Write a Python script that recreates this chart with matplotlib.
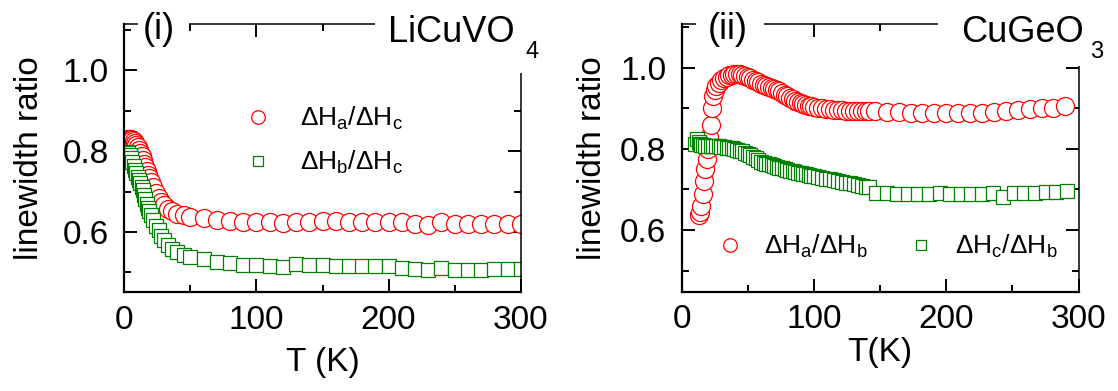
import matplotlib
matplotlib.use('Agg')
import matplotlib.pyplot as plt
from matplotlib.patches import Rectangle
from matplotlib.ticker import MultipleLocator
from matplotlib.lines import Line2D

plt.rcParams['font.family'] = ['Liberation Sans', 'DejaVu Sans']
plt.rcParams['mathtext.fontset'] = 'custom'
plt.rcParams['mathtext.rm'] = 'Liberation Sans'
plt.rcParams['mathtext.it'] = 'Liberation Sans'
plt.rcParams['mathtext.default'] = 'regular'

RED = '#ff0000'
GREEN = '#008000'

# LiCuVO4 : linewidth ratios vs temperature
T_li = [2, 3, 4, 5, 6, 7, 8, 9, 10, 11, 12, 13, 14, 15, 16, 17, 18, 19, 20,
        22, 24, 26, 28, 30, 33, 36, 40, 45,
        50, 60, 70, 80, 90, 100, 110, 120, 130, 140, 150, 160, 170, 180, 190,
        200, 210, 220, 230, 240, 250, 260, 270, 280, 290, 300]
li_a_c = [0.828, 0.830, 0.830, 0.829, 0.827, 0.824, 0.820, 0.815, 0.809, 0.802,
          0.795, 0.787, 0.778, 0.769, 0.760, 0.751, 0.742, 0.733, 0.724,
          0.710, 0.697, 0.685, 0.675, 0.666, 0.657, 0.651, 0.645, 0.641,
          0.638, 0.634, 0.630, 0.626, 0.625, 0.624, 0.624, 0.623, 0.624, 0.625,
          0.628, 0.627, 0.625, 0.625, 0.625, 0.625, 0.624, 0.619, 0.617, 0.624,
          0.621, 0.621, 0.621, 0.620, 0.621, 0.620]
li_b_c = [0.797, 0.795, 0.790, 0.782, 0.772, 0.762, 0.753, 0.745, 0.737, 0.728,
          0.720, 0.711, 0.703, 0.692, 0.681, 0.670, 0.660, 0.651, 0.643,
          0.629, 0.616, 0.604, 0.590, 0.580, 0.568, 0.558, 0.550, 0.543,
          0.539, 0.533, 0.527, 0.523, 0.519, 0.518, 0.516, 0.513, 0.521, 0.518,
          0.518, 0.517, 0.516, 0.516, 0.516, 0.516, 0.511, 0.509, 0.507, 0.510,
          0.507, 0.507, 0.507, 0.508, 0.508, 0.508]

# CuGeO3 : dHa/dHb
T_cu_a = [13, 14, 15, 16, 17, 18, 19, 20, 21, 22, 23, 24, 25, 26, 28, 30, 32,
          34, 36, 38, 40, 42, 44, 46, 48, 50, 52, 54, 56, 58, 60, 62, 64, 66,
          68, 70, 72, 74, 76, 78, 80, 82, 84, 86, 88, 90, 92, 94, 96, 98, 100,
          103, 106, 109, 112, 115, 118, 121, 124, 127, 130, 133, 136, 139, 142,
          146, 155, 164, 173, 182, 191, 200, 209, 218, 227, 236, 245, 254, 263,
          272, 281, 290]
cu_a_b = [0.636, 0.645, 0.660, 0.690, 0.720, 0.750, 0.775, 0.800, 0.830, 0.860,
          0.900, 0.930, 0.945, 0.955, 0.963, 0.970, 0.975, 0.978, 0.981, 0.983,
          0.985, 0.985, 0.984, 0.982, 0.980, 0.977, 0.974, 0.971, 0.968, 0.964,
          0.960, 0.957, 0.954, 0.952, 0.950, 0.948, 0.945, 0.942, 0.938, 0.934,
          0.930, 0.926, 0.922, 0.918, 0.915, 0.912, 0.910, 0.908, 0.906, 0.905,
          0.904, 0.902, 0.900, 0.899, 0.898, 0.897, 0.896, 0.895, 0.894, 0.894,
          0.893, 0.893, 0.893, 0.893, 0.894,
          0.894, 0.892, 0.890, 0.889, 0.888, 0.888, 0.888, 0.888, 0.889, 0.889,
          0.891, 0.893, 0.896, 0.899, 0.900, 0.902, 0.905]

# CuGeO3 : dHc/dHb
T_cu_c = [10, 12, 13, 14, 15, 16, 18, 20, 22, 24, 26, 28, 30, 32, 34, 36, 38,
          40, 42, 44, 46, 48, 50, 52, 54, 56, 58, 60, 62, 64, 66, 68, 70, 72,
          74, 76, 78, 80, 82, 84, 86, 88, 90, 92, 94, 96, 98, 100, 103, 106,
          109, 112, 115, 118, 121, 124, 127, 130, 133, 136, 139, 142,
          147, 155, 163, 171, 179, 187, 195, 203, 211, 219, 227, 235, 243, 251,
          259, 267, 275, 283, 291]
cu_c_b = [0.812, 0.825, 0.818, 0.812, 0.810, 0.809, 0.808, 0.808, 0.807, 0.807,
          0.806, 0.806, 0.805, 0.804, 0.803, 0.802, 0.801, 0.800, 0.798, 0.796,
          0.794, 0.791, 0.788, 0.785, 0.781, 0.777, 0.772, 0.768, 0.766, 0.764,
          0.762, 0.760, 0.758, 0.756, 0.754, 0.752, 0.750, 0.748, 0.746, 0.745,
          0.743, 0.741, 0.740, 0.738, 0.737, 0.735, 0.734, 0.733, 0.731, 0.729,
          0.727, 0.725, 0.723, 0.721, 0.719, 0.717, 0.715, 0.713, 0.711, 0.709,
          0.707, 0.705,
          0.692, 0.691, 0.690, 0.690, 0.689, 0.688, 0.692, 0.690, 0.690, 0.690,
          0.690, 0.692, 0.682, 0.692, 0.691, 0.692, 0.693, 0.694, 0.696]

circ = dict(marker='o', ms=13, mfc='white', mec=RED, mew=0.9, ls='none')
sqr = dict(marker='s', ms=10.5, mfc='white', mec=GREEN, mew=0.9, ls='none')

fig = plt.figure(figsize=(11.18, 3.91), dpi=100)
ax1 = fig.add_axes([0.1112, 0.2524, 0.3546, 0.6862])
ax2 = fig.add_axes([0.6096, 0.2540, 0.3552, 0.6847])


def style_axes(ax, ylim):
    ax.set_xlim(0, 300)
    ax.set_ylim(*ylim)
    ax.xaxis.set_major_locator(MultipleLocator(100))
    ax.xaxis.set_minor_locator(MultipleLocator(50))
    ax.yaxis.set_major_locator(MultipleLocator(0.2))
    ax.yaxis.set_minor_locator(MultipleLocator(0.1))
    ax.tick_params(which='both', direction='in', top=True, right=True,
                   labelsize=24, width=1.4)
    ax.tick_params(which='major', length=9.5)
    ax.tick_params(which='minor', length=5)
    ax.tick_params(axis='x', pad=9)
    ax.tick_params(axis='y', pad=11)
    for side in ['left', 'bottom']:
        ax.spines[side].set_linewidth(1.6)
    for side in ['top', 'right']:
        ax.spines[side].set_linewidth(1.1)
    ax.set_ylabel('linewidth ratio', fontsize=24)


def cover(ax, x0, y0, x1, y1):
    # white patch hiding the frame behind the panel captions
    ax.add_patch(Rectangle((x0, y0), x1 - x0, y1 - y0, transform=ax.transAxes,
                           facecolor='white', edgecolor='none',
                           clip_on=False, zorder=3))


# (i) LiCuVO4
ax1.plot(T_li, li_a_c, **circ)
ax1.plot(T_li, li_b_c, **sqr)
style_axes(ax1, (0.451, 1.114))
ax1.set_xlabel('T (K)', fontsize=24)
ax1.yaxis.set_label_coords(-0.201, 0.5)
ax1.xaxis.set_label_coords(0.5, -0.204)
cover(ax1, 0.0333, 0.94, 0.163, 1.071)
cover(ax1, 0.6325, 0.8173, 1.12, 1.1)
ax1.text(0.046, 0.944, '(i)', transform=ax1.transAxes, fontsize=26,
         ha='left', va='baseline', zorder=4)
ax1.text(0.985, 0.9329, 'LiCuVO', transform=ax1.transAxes, fontsize=26,
         ha='right', va='baseline', zorder=4)
ax1.text(1.012, 0.872, '4', transform=ax1.transAxes, fontsize=17,
         ha='left', va='baseline', zorder=4)
h1 = [Line2D([], [], **circ), Line2D([], [], **sqr)]
ax1.legend(h1, [r'$\Delta H_a/\Delta H_c$', r'$\Delta H_b/\Delta H_c$'],
           loc='center left', bbox_to_anchor=(0.3045, 0.565), frameon=False,
           fontsize=19, markerscale=0.75, handlelength=1.0, handletextpad=1.1,
           borderpad=0, borderaxespad=0, labelspacing=0.65)

# (ii) CuGeO3
ax2.plot(T_cu_a, cu_a_b, **circ)
ax2.plot(T_cu_c, cu_c_b, **sqr)
style_axes(ax2, (0.448, 1.108))
ax2.set_xlabel('T(K)', fontsize=24)
ax2.yaxis.set_label_coords(-0.185, 0.5)
ax2.xaxis.set_label_coords(0.5, -0.169)
cover(ax2, 0.0358, 0.94, 0.2067, 1.071)
cover(ax2, 0.6459, 0.843, 1.12, 1.1)
ax2.text(0.066, 0.944, '(ii)', transform=ax2.transAxes, fontsize=26,
         ha='left', va='baseline', zorder=4)
ax2.text(1.014, 0.9328, 'CuGeO', transform=ax2.transAxes, fontsize=26,
         ha='right', va='baseline', zorder=4)
ax2.text(1.03, 0.872, '3', transform=ax2.transAxes, fontsize=17,
         ha='left', va='baseline', zorder=4)
h2 = [Line2D([], [], **circ), Line2D([], [], **sqr)]
ax2.legend(h2, [r'$\Delta H_a/\Delta H_b$', r'$\Delta H_c/\Delta H_b$'],
           loc='center left', bbox_to_anchor=(0.089, 0.168), frameon=False,
           fontsize=19, markerscale=0.75, handlelength=1.0, handletextpad=0.8,
           columnspacing=1.5, ncol=2, borderpad=0, borderaxespad=0)

fig.savefig('out.png', dpi=100)
